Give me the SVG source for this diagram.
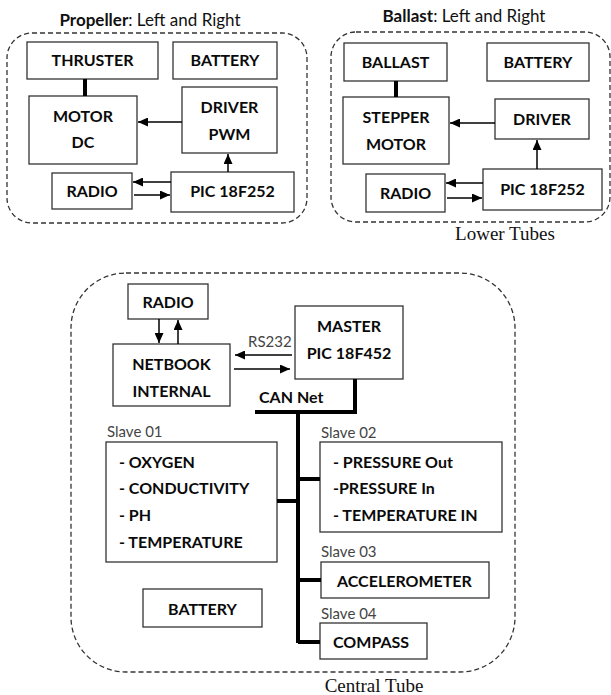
<svg xmlns="http://www.w3.org/2000/svg" width="611" height="695" viewBox="0 0 611 695">
<defs>
<marker id="ah" markerUnits="userSpaceOnUse" markerWidth="11" markerHeight="9" refX="10" refY="4.5" orient="auto">
<path d="M0,0 L10,4.5 L0,9 z" fill="#000"/>
</marker>
<style>
.box{fill:#fff;stroke:#333;stroke-width:1.3}
.grp{fill:none;stroke:#333;stroke-width:1.3;stroke-dasharray:5,3}
.lb{font-family:Lato,"Liberation Sans",sans-serif;font-weight:bold;font-size:16px;fill:#0a0a0a;text-anchor:middle}
.ll{font-family:Lato,"Liberation Sans",sans-serif;font-weight:bold;font-size:16px;fill:#0a0a0a}
.sl{font-family:Lato,"Liberation Sans",sans-serif;font-size:15px;fill:#444}
.ttl{font-family:Lato,"Liberation Sans",sans-serif;font-size:17px;fill:#111}
.cap{font-family:"Liberation Serif",serif;font-size:19px;fill:#111}
.arr{stroke:#000;stroke-width:1.5;fill:none;marker-end:url(#ah)}
.thk{stroke:#000;stroke-width:4;fill:none}
</style>
</defs>

<g id="groups">
<rect class="grp" x="7" y="33" width="300" height="190" rx="25"/>
<rect class="grp" x="331" y="32" width="279" height="190" rx="25"/>
<rect class="grp" x="71" y="273" width="444" height="399" rx="55"/>
<text class="ttl" x="150" y="26" text-anchor="middle"><tspan font-weight="bold">Propeller</tspan>: Left and Right</text>
<text class="ttl" x="464" y="22" text-anchor="middle"><tspan font-weight="bold">Ballast</tspan>: Left and Right</text>
<text class="cap" x="505" y="240" text-anchor="middle">Lower Tubes</text>
<text class="cap" x="374" y="692" text-anchor="middle">Central Tube</text>
</g>

<g id="p-thruster"><rect class="box" x="27" y="42" width="131" height="37"/><text class="lb" x="92.5" y="66">THRUSTER</text></g>
<g id="p-battery"><rect class="box" x="173" y="42" width="104" height="37"/><text class="lb" x="225" y="66">BATTERY</text></g>
<g id="p-motor"><rect class="box" x="29" y="96" width="108" height="68"/><text class="lb" x="83" y="122">MOTOR</text><text class="lb" x="83" y="148">DC</text></g>
<g id="p-driver"><rect class="box" x="182" y="87" width="95" height="66"/><text class="lb" x="229.5" y="113">DRIVER</text><text class="lb" x="229.5" y="140">PWM</text></g>
<g id="p-radio"><rect class="box" x="52" y="173" width="80" height="36"/><text class="lb" x="92" y="197">RADIO</text></g>
<g id="p-pic"><rect class="box" x="171" y="172" width="123" height="40"/><text class="lb" x="232.5" y="197">PIC 18F252</text></g>

<g id="b-ballast"><rect class="box" x="344" y="43" width="103" height="38"/><text class="lb" x="395.5" y="68">BALLAST</text></g>
<g id="b-battery"><rect class="box" x="487" y="43" width="102" height="38"/><text class="lb" x="538" y="68">BATTERY</text></g>
<g id="b-stepper"><rect class="box" x="343" y="97" width="106" height="67"/><text class="lb" x="396" y="123">STEPPER</text><text class="lb" x="396" y="150">MOTOR</text></g>
<g id="b-driver"><rect class="box" x="495" y="99" width="94" height="40"/><text class="lb" x="542" y="125">DRIVER</text></g>
<g id="b-radio"><rect class="box" x="366" y="174" width="79" height="38"/><text class="lb" x="405.5" y="199">RADIO</text></g>
<g id="b-pic"><rect class="box" x="483" y="169" width="119" height="41"/><text class="lb" x="542.5" y="195">PIC 18F252</text></g>

<g id="c-radio"><rect class="box" x="128" y="284" width="80" height="35"/><text class="lb" x="168" y="308">RADIO</text></g>
<g id="c-netbook"><rect class="box" x="113" y="344" width="117" height="62"/><text class="lb" x="171.5" y="370">NETBOOK</text><text class="lb" x="171.5" y="397">INTERNAL</text></g>
<g id="c-master"><rect class="box" x="295" y="306" width="108" height="73"/><text class="lb" x="349" y="332">MASTER</text><text class="lb" x="349" y="359">PIC 18F452</text></g>
<g id="c-slave01"><text class="sl" x="107" y="437">Slave 01</text><rect class="box" x="106" y="442" width="171" height="120"/>
<text class="ll" x="119" y="468">- OXYGEN</text><text class="ll" x="119" y="494">- CONDUCTIVITY</text><text class="ll" x="119" y="521">- PH</text><text class="ll" x="119" y="548">- TEMPERATURE</text></g>
<g id="c-slave02"><text class="sl" x="321" y="438">Slave 02</text><rect class="box" x="320" y="442" width="182" height="90"/>
<text class="ll" x="333" y="468">- PRESSURE Out</text><text class="ll" x="333" y="494">-PRESSURE In</text><text class="ll" x="333" y="521">- TEMPERATURE  IN</text></g>
<g id="c-slave03"><text class="sl" x="321" y="557">Slave 03</text><rect class="box" x="321" y="562" width="168" height="36"/><text class="ll" x="337" y="587">ACCELEROMETER</text></g>
<g id="c-slave04"><text class="sl" x="321" y="619">Slave 04</text><rect class="box" x="320" y="623" width="107" height="36"/><text class="ll" x="333" y="648">COMPASS</text></g>
<g id="c-battery"><rect class="box" x="143" y="589" width="119" height="38"/><text class="lb" x="202.5" y="615">BATTERY</text></g>

<g id="connectors">
<line x1="85" y1="79" x2="85" y2="96" stroke="#000" stroke-width="4"/>
<line class="arr" x1="182" y1="122" x2="138" y2="122"/>
<line class="arr" x1="228" y1="172" x2="228" y2="154"/>
<line class="arr" x1="171" y1="182" x2="133" y2="182"/>
<line class="arr" x1="134" y1="195" x2="170" y2="195"/>

<line x1="396" y1="81" x2="396" y2="97" stroke="#000" stroke-width="4"/>
<line class="arr" x1="495" y1="123" x2="450" y2="123"/>
<line class="arr" x1="537" y1="169" x2="537" y2="140"/>
<line class="arr" x1="483" y1="183" x2="446" y2="183"/>
<line class="arr" x1="447" y1="198" x2="482" y2="198"/>

<line class="arr" x1="159" y1="319" x2="159" y2="343"/>
<line class="arr" x1="178" y1="344" x2="178" y2="320"/>
<line class="arr" x1="292" y1="355" x2="235" y2="355"/>
<line class="arr" x1="234" y1="369" x2="290" y2="369"/>
<text class="sl" x="248" y="347" fill="#555">RS232</text>
<text class="ll" x="259" y="403" font-size="15">CAN Net</text>

<path class="thk" d="M355,379 V412 H255"/>
<path class="thk" d="M298,412 V643"/>
<path class="thk" d="M277,501 H298 M298,479 H320 M298,580 H321 M298,642 H320"/>
</g>
</svg>
